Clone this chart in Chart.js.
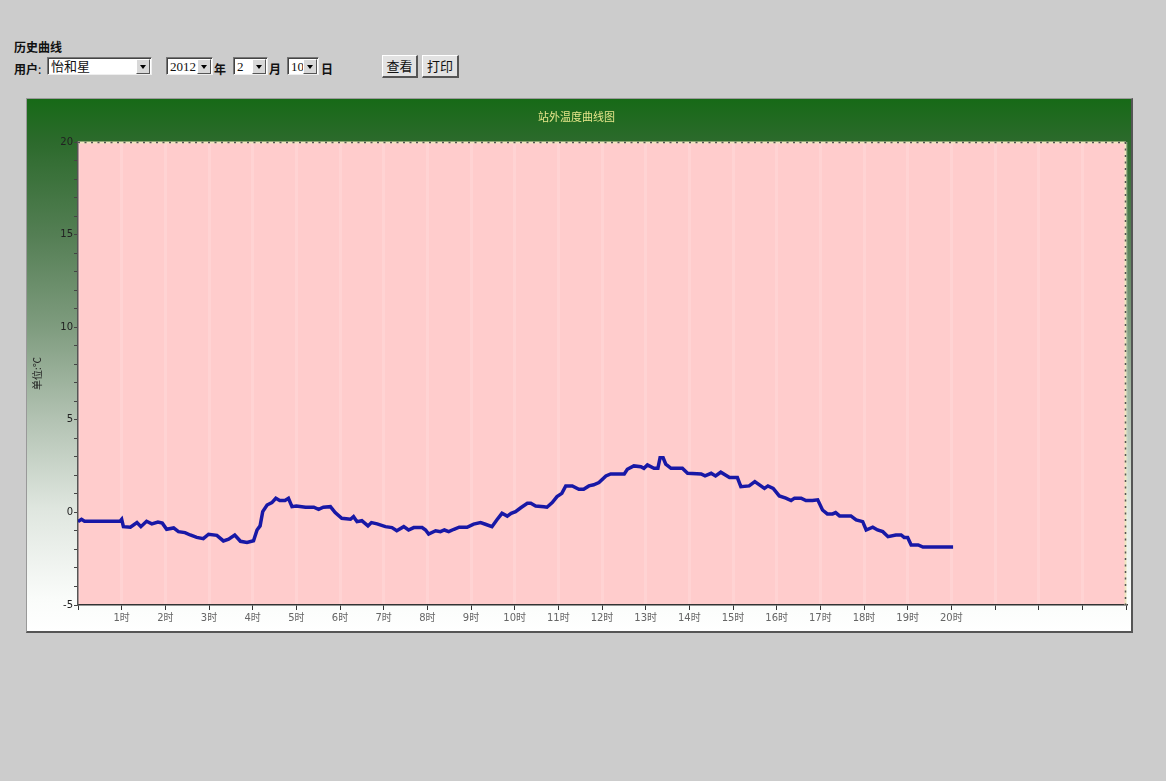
<!DOCTYPE html>
<html>
<head>
<meta charset="utf-8">
<script src="https://cdn.jsdelivr.net/npm/chart.js@4.4.1/dist/chart.umd.min.js"></script>
<style>
  html, body { margin: 0; padding: 0; }
  body { width: 1166px; height: 781px; background: #cccccc; position: relative; overflow: hidden;
         font-family: "Noto Sans CJK SC", "DejaVu Sans", sans-serif; }
  .abs { position: absolute; }
  .lbl { font-size: 12px; font-weight: bold; color: #111; line-height: 14px; }
  .sel { background: #fff; border-top: 1px solid #777; border-left: 1px solid #777;
         border-right: 1px solid #eee; border-bottom: 1px solid #eee; box-shadow: inset 1px 1px 0 #444;
         height: 18px; font-size: 13px; line-height: 18px; color: #111; box-sizing: border-box; }
  .sel span.t { position: absolute; left: 3px; top: 0; font-family: "Liberation Serif", "Noto Sans CJK SC", serif; }
  .arr { position: absolute; right: 1px; top: 1px; width: 14px; height: 15px; background: #d8d8d8;
         border-top: 1px solid #fff; border-left: 1px solid #fff; border-right: 1px solid #555; border-bottom: 1px solid #555; box-sizing: border-box; }
  .arr:after { content: ""; position: absolute; left: 3px; top: 5px; border-left: 3.5px solid transparent;
         border-right: 3.5px solid transparent; border-top: 4px solid #000; }
  .btn { background: #e2e2e2; border-top: 1px solid #fff; border-left: 1px solid #fff; border-right: 2px solid #555;
         border-bottom: 2px solid #555; box-sizing: border-box; height: 23px; font-size: 13px; line-height: 20px;
         text-align: center; color: #111; }
  #box { position: absolute; left: 26px; top: 98px; width: 1104px; height: 532px;
         border-left: 1px solid #999; border-top: 1px solid #999; border-right: 2px solid #555; border-bottom: 2px solid #555;
         background: linear-gradient(to bottom, #176a17 0%, #2c6a2c 8%, #557f55 26%, #7f9c7f 43%, #b2c2b2 60%, #dfe6df 77%, #fafcfa 94%, #ffffff 100%); }
  #c { position: absolute; left: 0; top: 0; }
</style>
</head>
<body>
<div class="abs lbl" style="left:14px; top:40px;">历史曲线</div>
<div class="abs lbl" style="left:14px; top:62px;">用户<span style="font-weight:normal">:</span></div>
<div class="abs sel" style="left:47px; top:57px; width:105px;"><span class="t">怡和星</span><div class="arr"></div></div>
<div class="abs sel" style="left:166px; top:57px; width:47px;"><span class="t">2012</span><div class="arr"></div></div>
<div class="abs lbl" style="left:214px; top:62px;">年</div>
<div class="abs sel" style="left:233px; top:57px; width:35px;"><span class="t">2</span><div class="arr"></div></div>
<div class="abs lbl" style="left:269px; top:62px;">月</div>
<div class="abs sel" style="left:287px; top:57px; width:32px;"><span class="t">10</span><div class="arr"></div></div>
<div class="abs lbl" style="left:321px; top:62px;">日</div>
<div class="abs btn" style="left:382px; top:55px; width:36px;">查看</div>
<div class="abs btn" style="left:422px; top:55px; width:37px;">打印</div>

<div id="box"><canvas id="c" width="1104" height="532"></canvas></div>

<script>
// ---- data (hour of day, outdoor temperature in °C) ----
const hours = [
  0.00, 0.08, 0.15, 0.96, 1.00, 1.04, 1.20, 1.35, 1.44, 1.57, 1.69, 1.83, 1.93,
  2.03, 2.19, 2.30, 2.45, 2.57, 2.72, 2.87, 2.99, 3.18, 3.33, 3.45, 3.59, 3.72, 3.87,
  4.02, 4.10, 4.17, 4.23, 4.33, 4.44, 4.53, 4.62, 4.74, 4.82, 4.90, 5.00, 5.21, 5.40,
  5.51, 5.62, 5.78, 5.89, 6.04, 6.24, 6.31, 6.39, 6.50, 6.64, 6.72, 6.85, 7.04, 7.19,
  7.30, 7.46, 7.57, 7.69, 7.88, 7.96, 8.03, 8.19, 8.30, 8.39, 8.49, 8.61, 8.73, 8.91,
  9.06, 9.22, 9.33, 9.48, 9.59, 9.71, 9.83, 9.92, 10.02, 10.14, 10.29, 10.37, 10.48,
  10.67, 10.74, 10.86, 10.97, 11.08, 11.17, 11.32, 11.47, 11.58, 11.70, 11.81, 11.93,
  12.09, 12.20, 12.51, 12.58, 12.73, 12.89, 12.96, 13.04, 13.19, 13.28, 13.33, 13.40,
  13.46, 13.58, 13.84, 13.96, 14.27, 14.36, 14.50, 14.60, 14.72, 14.92, 15.10, 15.18,
  15.37, 15.50, 15.72, 15.80, 15.92, 16.06, 16.21, 16.33, 16.41, 16.56, 16.67, 16.82,
  16.94, 17.05, 17.16, 17.28, 17.35, 17.44, 17.70, 17.82, 17.97, 18.05, 18.20, 18.31,
  18.43, 18.55, 18.73, 18.85, 18.92, 19.00, 19.08, 19.24, 19.35, 20.04
];
const temps = [
  -0.50, -0.37, -0.48, -0.48, -0.37, -0.77, -0.80, -0.55, -0.77, -0.48, -0.62, -0.52, -0.58,
  -0.91, -0.84, -1.04, -1.09, -1.22, -1.35, -1.42, -1.18, -1.24, -1.54, -1.45, -1.22, -1.56, -1.62,
  -1.53, -0.95, -0.73, 0.04, 0.40, 0.53, 0.76, 0.64, 0.64, 0.76, 0.31, 0.35, 0.28, 0.28,
  0.17, 0.28, 0.31, -0.01, -0.32, -0.37, -0.23, -0.50, -0.45, -0.73, -0.55, -0.62, -0.77, -0.82,
  -0.99, -0.77, -0.95, -0.82, -0.82, -0.95, -1.17, -0.99, -1.04, -0.95, -1.04, -0.91, -0.80, -0.80,
  -0.63, -0.55, -0.64, -0.77, -0.41, -0.05, -0.20, -0.05, 0.04, 0.25, 0.49, 0.49, 0.35,
  0.31, 0.28, 0.53, 0.85, 1.03, 1.43, 1.43, 1.25, 1.25, 1.43, 1.49, 1.61,
  1.97, 2.08, 2.08, 2.33, 2.51, 2.47, 2.38, 2.56, 2.38, 2.38, 2.95, 2.95,
  2.60, 2.38, 2.38, 2.11, 2.08, 1.97, 2.11, 1.97, 2.17, 1.88, 1.88, 1.39,
  1.43, 1.66, 1.30, 1.43, 1.30, 0.89, 0.77, 0.64, 0.77, 0.77, 0.64, 0.64,
  0.68, 0.13, -0.08, -0.08, -0.01, -0.19, -0.19, -0.41, -0.50, -0.95, -0.80, -0.95,
  -1.04, -1.31, -1.22, -1.22, -1.35, -1.35, -1.76, -1.76, -1.87, -1.87
];
const chartTitle = '站外温度曲线图';
const yTitle = '单位:℃';
const hourSuffix = '时';
const xMin = 0, xMax = 24, lastLabelledHour = 20;
const yMin = -5, yMax = 20, yLabelStep = 5;

const points = hours.map((h, i) => ({ x: h, y: temps[i] }));

const plotDecor = {
  id: 'plotDecor',
  beforeDraw(chart) {
    const { ctx, chartArea: a } = chart;
    ctx.save();
    ctx.fillStyle = '#ffcccc';
    ctx.fillRect(a.left, a.top, a.right - a.left, a.bottom - a.top);
    ctx.restore();
  },
  afterDraw(chart) {
    const { ctx, chartArea: a } = chart;
    ctx.save();
    ctx.strokeStyle = '#efe6c0';
    ctx.lineWidth = 2;
    ctx.beginPath();
    ctx.moveTo(a.left, a.top + 0.5); ctx.lineTo(a.right, a.top + 0.5);
    ctx.moveTo(a.right - 0.5, a.top); ctx.lineTo(a.right - 0.5, a.bottom);
    ctx.stroke();
    ctx.strokeStyle = '#555';
    ctx.lineWidth = 1.5;
    ctx.setLineDash([2, 4.5]);
    ctx.beginPath();
    ctx.moveTo(a.left, a.top + 0.5); ctx.lineTo(a.right, a.top + 0.5);
    ctx.moveTo(a.right - 0.5, a.top); ctx.lineTo(a.right - 0.5, a.bottom);
    ctx.stroke();
    ctx.restore();
  }
};

new Chart(document.getElementById('c'), {
  type: 'line',
  data: {
    datasets: [{
      data: points,
      borderColor: '#1818a6',
      borderWidth: 3.5,
      pointRadius: 0,
      tension: 0,
      fill: false
    }]
  },
  options: {
    responsive: false,
    animation: false,
    devicePixelRatio: 1,
    layout: { padding: { left: 0, right: 5, top: 0, bottom: 0 } },
    plugins: {
      legend: { display: false },
      tooltip: { enabled: false },
      title: {
        display: true,
        text: chartTitle,
        color: '#e6e68a',
        font: { size: 11, family: '"Noto Sans CJK SC", sans-serif', weight: 'normal' },
        padding: { top: 11, bottom: 18.8 }
      }
    },
    scales: {
      x: {
        type: 'linear',
        min: xMin, max: xMax,
        afterFit(s) { s.height = 26; },
        ticks: {
          stepSize: 1, autoSkip: false, maxRotation: 0, padding: 2,
          color: '#666',
          font: { size: 10, family: '"DejaVu Sans", "Noto Sans CJK SC", sans-serif' },
          callback: v => (v >= 1 && v <= lastLabelledHour) ? v + hourSuffix : ''
        },
        grid: { color: 'rgba(255,255,255,0.14)', lineWidth: 3, tickColor: '#333', tickWidth: 1, tickLength: 5 },
        border: { display: true, color: '#333', width: 1.5 }
      },
      y: {
        type: 'linear',
        min: yMin, max: yMax,
        afterFit(s) { s.width = 51; },
        ticks: {
          stepSize: 1, autoSkip: false, padding: 1,
          color: '#222',
          font: { size: 10, family: '"DejaVu Sans", sans-serif' },
          callback: v => (v % yLabelStep === 0) ? String(v) : ''
        },
        grid: { drawOnChartArea: false, tickColor: '#444', tickWidth: 1, tickLength: 4 },
        border: { display: true, color: '#555', width: 1.5 },
        title: {
          display: true, text: yTitle, color: '#222',
          font: { size: 10, family: '"Noto Sans CJK SC", sans-serif' },
          padding: { top: 4, bottom: 0 }
        }
      }
    }
  },
  plugins: [plotDecor]
});
</script>
</body>
</html>
